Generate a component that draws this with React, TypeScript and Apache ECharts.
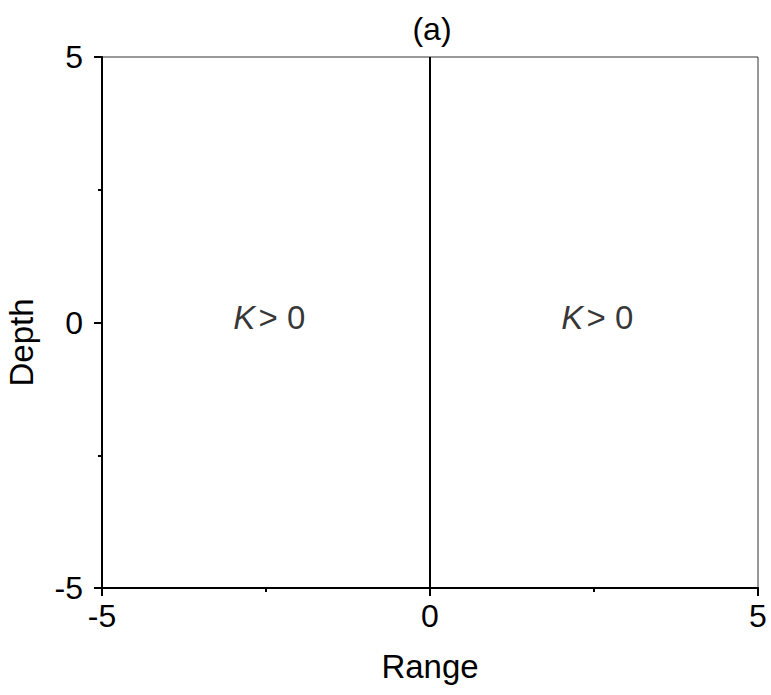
import React, { useEffect, useRef } from "react";
import * as echarts from "echarts";

const xTicks = [-5, 0, 5];
const yTicks = [-5, 0, 5];
const boundaryX = [0, 0];
const boundaryY = [-5, 5];
const regionLabelX = [-3, 2];
const regionLabelY = [0.1, 0.1];
const regionLabelText = ["K > 0", "K > 0"];
const title = "(a)";
const xName = "Range";
const yName = "Depth";

export default function App() {
  const ref = useRef<HTMLDivElement>(null);
  useEffect(() => {
    if (!ref.current) return;
    const chart = echarts.init(ref.current, null, { renderer: "svg" });
    const font = "Liberation Sans, Arial, sans-serif";
    const labelData = regionLabelX.map((x, i) => ({
      value: [x, regionLabelY[i]],
      name: regionLabelText[i],
    }));
    chart.setOption({
      animation: false,
      backgroundColor: "#fff",
      title: {
        text: title,
        left: 427,
        textAlign: "center",
        top: 8,
        textStyle: { fontFamily: font, fontSize: 32, fontWeight: "normal", color: "#000" },
      },
      grid: {
        left: 102,
        right: 13,
        top: 57,
        bottom: 107,
        containLabel: false,
        outerBoundsMode: "none",
        show: true,
        borderColor: "#333",
        borderWidth: 1,
        backgroundColor: "transparent",
      },
      xAxis: {
        type: "value",
        min: xTicks[0],
        max: xTicks[xTicks.length - 1],
        interval: 5,
        name: xName,
        nameLocation: "middle",
        nameGap: 62,
        nameTextStyle: { fontFamily: font, fontSize: 33, color: "#000" },
        axisLine: { show: true, onZero: false, lineStyle: { color: "#000", width: 2 } },
        axisTick: { show: true, length: 8, lineStyle: { color: "#000", width: 2 } },
        minorTick: { show: true, splitNumber: 2, length: 4, lineStyle: { color: "#000", width: 2 } },
        axisLabel: { fontFamily: font, fontSize: 32, color: "#000", margin: 12 },
        splitLine: { show: false },
      },
      yAxis: {
        type: "value",
        min: yTicks[0],
        max: yTicks[yTicks.length - 1],
        interval: 5,
        name: yName,
        nameLocation: "middle",
        nameGap: 64,
        nameTextStyle: { fontFamily: font, fontSize: 33, color: "#000", padding: [0, 40, 0, 0] },
        axisLine: { show: true, onZero: false, lineStyle: { color: "#000", width: 2 } },
        axisTick: { show: true, length: 8, lineStyle: { color: "#000", width: 2 } },
        minorTick: { show: true, splitNumber: 2, length: 4, lineStyle: { color: "#000", width: 2 } },
        axisLabel: { fontFamily: font, fontSize: 32, color: "#000", margin: 19 },
        splitLine: { show: false },
      },
      series: [
        {
          type: "line",
          data: boundaryX.map((x, i) => [x, boundaryY[i]]),
          symbol: "none",
          lineStyle: { color: "#000", width: 2 },
          z: 3,
        },
        {
          type: "scatter",
          data: labelData,
          symbolSize: 0,
          label: {
            show: true,
            position: "inside",
            align: "left",
            verticalAlign: "middle",
            color: "#000",
            textBorderWidth: 0,
            formatter: "{i|K} {n|> 0}",
            rich: {
              i: { fontFamily: font, fontSize: 33, fontStyle: "italic", color: "#000", textBorderWidth: 0 },
              n: { fontFamily: font, fontSize: 33, color: "#000", textBorderWidth: 0 },
            },
          },
          silent: true,
        },
      ],
    });
    return () => chart.dispose();
  }, []);
  return (
    <div
      ref={ref}
      style={{ position: "fixed", left: 0, top: 0, width: 771, height: 695 }}
    />
  );
}
